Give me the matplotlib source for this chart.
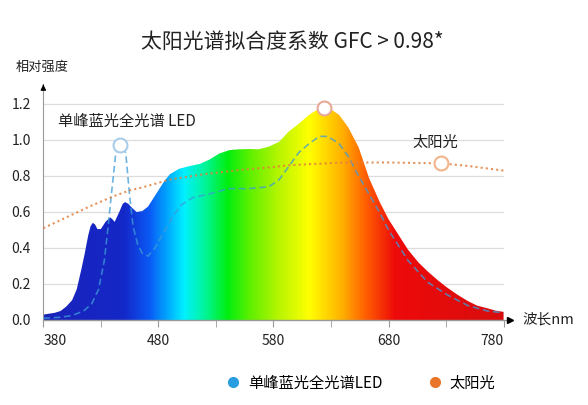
import matplotlib.pyplot as plt
import numpy as np
from matplotlib.colors import LinearSegmentedColormap
from matplotlib.lines import Line2D

plt.rcParams['font.family'] = ['Noto Sans CJK SC', 'DejaVu Sans']

# full-spectrum curve (filled with rainbow)
full_nm = [380, 390, 395, 400, 405, 409, 413, 416, 419, 421, 423, 425, 427, 430, 434, 438,
           440, 442, 446, 449, 451, 454, 456, 461, 466, 471, 475, 480, 485, 490, 498, 507,
           516, 524, 533, 542, 550, 559, 567, 576, 585, 593, 602, 611, 616, 620, 624, 630,
           637, 645, 654, 663, 672, 680, 689, 697, 706, 714, 723, 731, 740, 749, 757, 766,
           773, 780]
full_val = [0.03, 0.04, 0.05, 0.075, 0.11, 0.17, 0.28, 0.37, 0.47, 0.52, 0.54, 0.53, 0.505,
            0.505, 0.545, 0.57, 0.56, 0.545, 0.60, 0.645, 0.655, 0.645, 0.63, 0.60, 0.605,
            0.63, 0.67, 0.72, 0.77, 0.81, 0.84, 0.855, 0.867, 0.89, 0.925, 0.944, 0.948,
            0.95, 0.948, 0.963, 0.99, 1.045, 1.09, 1.14, 1.16, 1.172, 1.178, 1.17, 1.14,
            1.07, 0.96, 0.79, 0.66, 0.56, 0.47, 0.39, 0.32, 0.27, 0.22, 0.18, 0.14, 0.105,
            0.08, 0.065, 0.052, 0.045]

# single-peak blue LED (dashed)
led_nm = [380, 395, 405, 415, 422, 428, 433, 436, 439, 443, 447, 451.6, 455, 458, 462, 466,
          471, 477, 484, 492, 500, 510, 524, 541, 559, 576, 585, 593, 602, 611, 620, 627,
          637, 645, 654, 663, 672, 680, 697, 714, 731, 749, 766, 780]
led_val = [0.01, 0.015, 0.025, 0.05, 0.09, 0.17, 0.33, 0.5, 0.69, 0.93, 0.97, 0.93, 0.69,
           0.52, 0.42, 0.37, 0.355, 0.40, 0.48, 0.57, 0.64, 0.68, 0.70, 0.73, 0.73, 0.74,
           0.78, 0.85, 0.93, 0.98, 1.02, 1.02, 0.98, 0.91, 0.80, 0.70, 0.60, 0.50, 0.33,
           0.21, 0.14, 0.08, 0.05, 0.04]
led_mark_nm = 447

# sunlight (dotted)
sun_nm = [380, 400, 420, 440, 455, 465, 490, 520, 550, 580, 594, 637, 680, 726, 750, 780]
sun_val = [0.51, 0.57, 0.63, 0.685, 0.72, 0.735, 0.78, 0.81, 0.833, 0.85, 0.86, 0.874,
           0.875, 0.87, 0.855, 0.83]
sun_mark_nm = 726

# wavelength -> colour stops for the rainbow fill
rainbow_nm = [380, 450, 472, 490, 502, 520, 540, 560, 585, 611, 640, 660, 686, 780]
rainbow_col = ['#1a22b8', '#1428c8', '#0a5af5', '#00b4ff', '#00f0ff', '#00f59a', '#00ee10',
               '#60f000', '#b8f500', '#ffff00', '#ffb000', '#ff6000', '#ee0a0a', '#d80d0d']

xticks = [380, 480, 580, 680, 780]
yticks = [0.0, 0.2, 0.4, 0.6, 0.8, 1.0, 1.2]

fig = plt.figure(figsize=(5.88, 4.05), dpi=100)
ax = fig.add_axes([0.0737, 0.2099, 0.7827, 0.5778])
ax.set_xlim(380, 780)
ax.set_ylim(0, 1.3)

# rainbow fill clipped to the curve
pos = [(n - 380) / 400 for n in rainbow_nm]
cmap = LinearSegmentedColormap.from_list('spec', list(zip(pos, rainbow_col)))
grad = np.linspace(0, 1, 800).reshape(1, -1)
img = ax.imshow(grad, cmap=cmap, aspect='auto', extent=[380, 780, 0, 1.3],
                origin='lower', zorder=2)
poly = ax.fill_between(full_nm, 0, full_val, color='none', lw=0)
img.set_clip_path(poly.get_paths()[0], transform=ax.transData)

ax.grid(axis='y', color='#dddddd', lw=0.9, zorder=0)
ax.set_axisbelow(True)

ax.plot(led_nm, led_val, ls=(0, (4, 2.2)), color='#3d9bd8', lw=1.2, alpha=0.75, zorder=3)
ax.plot(sun_nm, sun_val, ls=(0, (1, 1.5)), color='#e2803e', lw=1.5, alpha=0.85, zorder=3)

# highlight markers
i_full = int(np.argmax(full_val))
ax.plot(full_nm[i_full], full_val[i_full], 'o', ms=10, mfc='white', mec='#e8a898',
        mew=1.5, zorder=5, clip_on=False)
i_led = led_nm.index(led_mark_nm)
ax.plot(led_nm[i_led], led_val[i_led], 'o', ms=10, mfc='white', mec='#a9cde8',
        mew=1.5, zorder=5)
i_sun = sun_nm.index(sun_mark_nm)
ax.plot(sun_nm[i_sun], sun_val[i_sun], 'o', ms=10, mfc='white', mec='#f2b48a',
        mew=1.5, zorder=5)

ax.text(393, 1.105, '单峰蓝光全光谱 LED', fontsize=11, color='#222222', va='center')
ax.text(701, 0.985, '太阳光', fontsize=11, color='#222222', va='center')

# axes look
for s in ['top', 'right', 'bottom']:
    ax.spines[s].set_visible(False)
ax.spines['left'].set_color('#999999')
ax.spines['left'].set_bounds(0, 1.3)
ax.annotate('', xy=(0, 1.018), xytext=(0, 0.99), xycoords='axes fraction',
            arrowprops=dict(arrowstyle='-|>', color='black', lw=0.8, mutation_scale=8))
ax.plot([0, 1.012], [0, 0], color='#999999', lw=1.0, transform=ax.transAxes,
        clip_on=False, zorder=6)
ax.plot(1.014, 0, '>', color='black', ms=5, transform=ax.transAxes, clip_on=False,
        zorder=7)

ax.set_yticks(yticks)
ax.set_yticklabels([f'{v:.1f}' for v in yticks])
ax.tick_params(axis='y', length=0, pad=9, labelsize=10, labelcolor='#222222')
ax.set_xticks(xticks)
ax.set_xticks(np.arange(430, 780, 100), minor=True)
ax.tick_params(axis='x', which='both', length=5, color='#999999', direction='out',
               pad=5, labelsize=10, labelcolor='#222222')
labels = ax.get_xticklabels()
labels[0].set_ha('left')
labels[-1].set_ha('right')

fig.text(0.497, 0.896, '太阳光谱拟合度系数 GFC > 0.98*', fontsize=15, ha='center',
         va='center', color='#222222')
fig.text(0.027, 0.834, '相对强度', fontsize=9.5, va='center', color='#222222')
fig.text(0.889, 0.21, '波长nm', fontsize=10.5, va='center', color='#222222')

handles = [Line2D([], [], ls='none', marker='o', ms=7, color='#2a9de0'),
           Line2D([], [], ls='none', marker='o', ms=7, color='#e8752a')]
fig.legend(handles, ['单峰蓝光全光谱LED', '太阳光'], loc='center', ncol=2,
           bbox_to_anchor=(0.613, 0.054), frameon=False, fontsize=11,
           handletextpad=0.5, columnspacing=2.9, handlelength=1)

fig.savefig('out.png', dpi=100)
